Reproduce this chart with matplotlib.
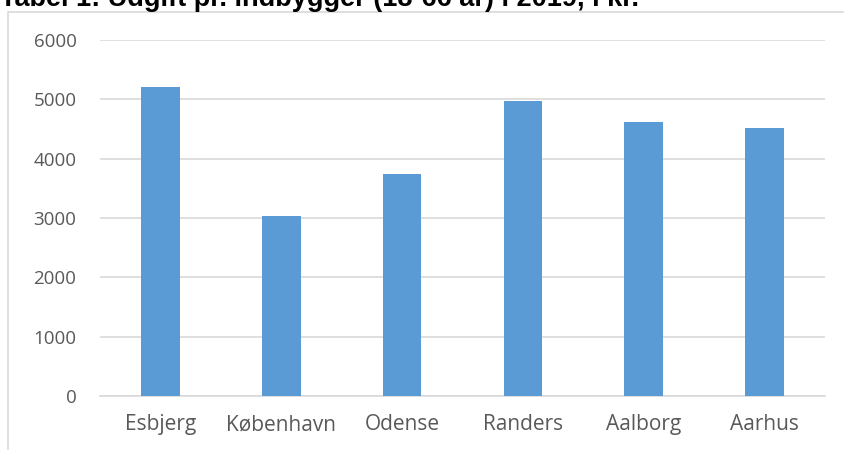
import matplotlib
matplotlib.use("Agg")
import matplotlib.pyplot as plt
from matplotlib.patches import Rectangle

categories = ["Esbjerg", "København", "Odense", "Randers", "Aalborg", "Aarhus"]
values = [5200, 3030, 3740, 4970, 4620, 4520]
yticks = [0, 1000, 2000, 3000, 4000, 5000, 6000]
title = "Tabel 1: Udgift pr. indbygger (18-66 år) i 2019, i kr."

plt.rcParams['font.family'] = ['Open Sans', 'DejaVu Sans']

fig = plt.figure(figsize=(8.45, 4.5), dpi=100)
# chart frame
fig.patches.append(Rectangle((8/845, -0.1), 1.0, (450-12)/450 + 0.1,
                             transform=fig.transFigure, fill=False,
                             edgecolor="#d9d9d9", linewidth=1.2))
fig.text(0.0, 1 - 6/450, title, fontsize=19.5, fontweight="bold",
         ha="left", va="baseline", color="#000000",
         family=['Liberation Sans', 'DejaVu Sans'])

ax = fig.add_axes([100/845, 54/450, 725/845, (396-40)/450])
x = range(len(categories))
ax.bar(x, values, width=0.32, color="#5b9bd5", zorder=3)
ax.set_xlim(-0.5, len(categories) - 0.5)
ax.set_ylim(0, 6000)
ax.set_yticks(yticks)
ax.set_yticklabels([str(v) for v in yticks])
ax.set_xticks(list(x))
ax.set_xticklabels(categories)
ax.grid(axis="y", color="#d9d9d9", linewidth=1.2, zorder=0)
for s in ["top", "right", "left"]:
    ax.spines[s].set_visible(False)
ax.spines["bottom"].set_color("#d9d9d9")
ax.spines["bottom"].set_linewidth(1.2)
ax.tick_params(axis="both", length=0, labelcolor="#595959")
ax.tick_params(axis="y", pad=17, labelsize=13.5)
ax.tick_params(axis="x", pad=13, labelsize=15)

fig.savefig("out.png", dpi=100)
